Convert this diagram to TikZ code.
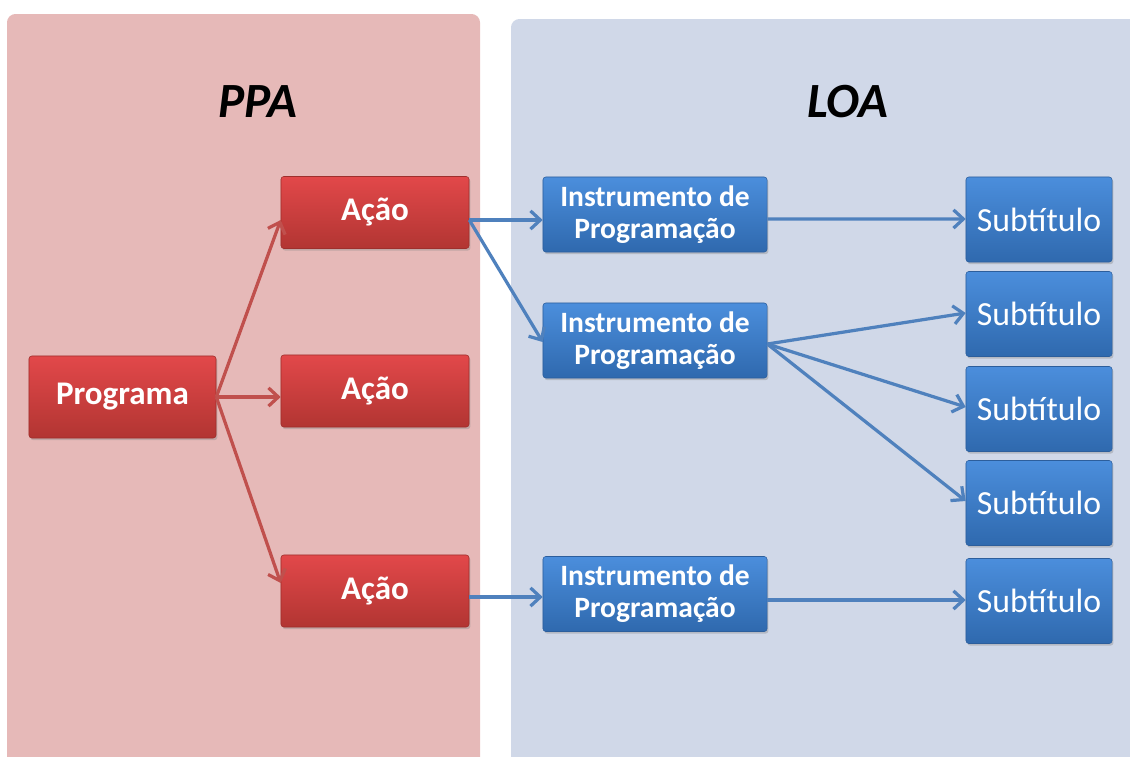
\documentclass[tikz,border=0pt]{standalone}
\usepackage{fontspec}
\setmainfont{Carlito}
\usetikzlibrary{arrows.meta,calc,shadows}
\definecolor{ppabg}{HTML}{E6B9B8}
\definecolor{loabg}{HTML}{D0D8E8}
\definecolor{redtop}{HTML}{E2484A}
\definecolor{redbot}{HTML}{B23532}
\definecolor{redline}{HTML}{9E2F2C}
\definecolor{bluetop}{HTML}{4B8EDC}
\definecolor{bluebot}{HTML}{2F69AE}
\definecolor{blueline}{HTML}{2C5E9C}
\definecolor{redarr}{HTML}{C0504D}
\definecolor{bluearr}{HTML}{4F81BD}
\begin{document}
\begin{tikzpicture}[x=0.025cm, y=-0.025cm,
    box/.style={rounded corners=2pt, inner sep=0pt, text=white, align=center,
      line width=0.4pt, drop shadow={opacity=0.35, shadow xshift=1pt, shadow yshift=-1.5pt}},
    redbox/.style={box, top color=redtop, bottom color=redbot, draw=redline,
      font=\fontsize{23.5}{25}\selectfont\bfseries},
    bluebox/.style={box, top color=bluetop, bottom color=bluebot, draw=blueline,
      font=\fontsize{21}{22.8}\selectfont\bfseries},
    subbox/.style={bluebox, font=\fontsize{24}{26}\selectfont,
      minimum width=3.65cm, minimum height=2.125cm},
    title/.style={anchor=base, font=\fontsize{35}{40}\selectfont\bfseries\itshape},
    redarrow/.style={-{Straight Barb[length=7pt,width=13pt]}, line width=2.3pt, draw=redarr},
    bluearrow/.style={-{Straight Barb[length=7pt,width=13pt]}, line width=2.3pt, draw=bluearr}]
  \useasboundingbox (0,0) rectangle (1130,756);
  \fill[ppabg, rounded corners=6pt] (7,14) rectangle (480,790);
  \fill[loabg, rounded corners=6pt] (511,19) rectangle (1160,790);
  \node[title] (ppa) at (258,117) {PPA};
  \node[title] (loa) at (848,117) {LOA};

  \node[redbox, minimum width=4.675cm, minimum height=2.05cm] (prog) at (122.5,397) {Programa};
  \node[redbox, minimum width=4.7cm, minimum height=1.8cm] (acao1) at (375,212.5) {Ação};
  \node[redbox, minimum width=4.7cm, minimum height=1.8cm] (acao2) at (375,391) {Ação};
  \node[redbox, minimum width=4.7cm, minimum height=1.8cm] (acao3) at (375,591) {Ação};

  \node[bluebox, minimum width=5.6cm, minimum height=1.875cm] (instr1) at (655,214.5) {Instrumento de\\Programação};
  \node[bluebox, minimum width=5.6cm, minimum height=1.875cm] (instr2) at (655,340.5) {Instrumento de\\Programação};
  \node[bluebox, minimum width=5.6cm, minimum height=1.875cm] (instr3) at (655,594) {Instrumento de\\Programação};

  \node[subbox] (sub1) at (1039,219.5) {Subtítulo};
  \node[subbox] (sub2) at (1039,314) {Subtítulo};
  \node[subbox] (sub3) at (1039,409) {Subtítulo};
  \node[subbox] (sub4) at (1039,503) {Subtítulo};
  \node[subbox] (sub5) at (1039,601) {Subtítulo};

  \draw[redarrow] (prog.east) -- ($(acao1.west)+(0,7.5)$);
  \draw[redarrow] (prog.east) -- ($(acao2.west)+(0,6)$);
  \draw[redarrow] (prog.east) -- ($(acao3.west)+(0,-8)$);

  \draw[bluearrow] ($(acao1.east)+(0,7.5)$) -- ($(instr1.west)+(0,5.5)$);
  \draw[bluearrow] ($(acao1.east)+(0,7.5)$) -- ($(instr2.west)+(0,1.5)$);
  \draw[bluearrow] ($(acao3.east)+(0,6)$) -- ($(instr3.west)+(0,3)$);

  \draw[bluearrow] ($(instr1.east)+(0,4.5)$) -- ($(sub1.west)+(0,-0.5)$);
  \draw[bluearrow] ($(instr2.east)+(0,3.5)$) -- ($(sub2.west)+(0,-1)$);
  \draw[bluearrow] ($(instr2.east)+(0,3.5)$) -- ($(sub3.west)+(0,-2)$);
  \draw[bluearrow] ($(instr2.east)+(0,3.5)$) -- ($(sub4.west)+(0,-2)$);
  \draw[bluearrow] ($(instr3.east)+(0,6)$) -- ($(sub5.west)+(0,-1)$);
\end{tikzpicture}
\end{document}
